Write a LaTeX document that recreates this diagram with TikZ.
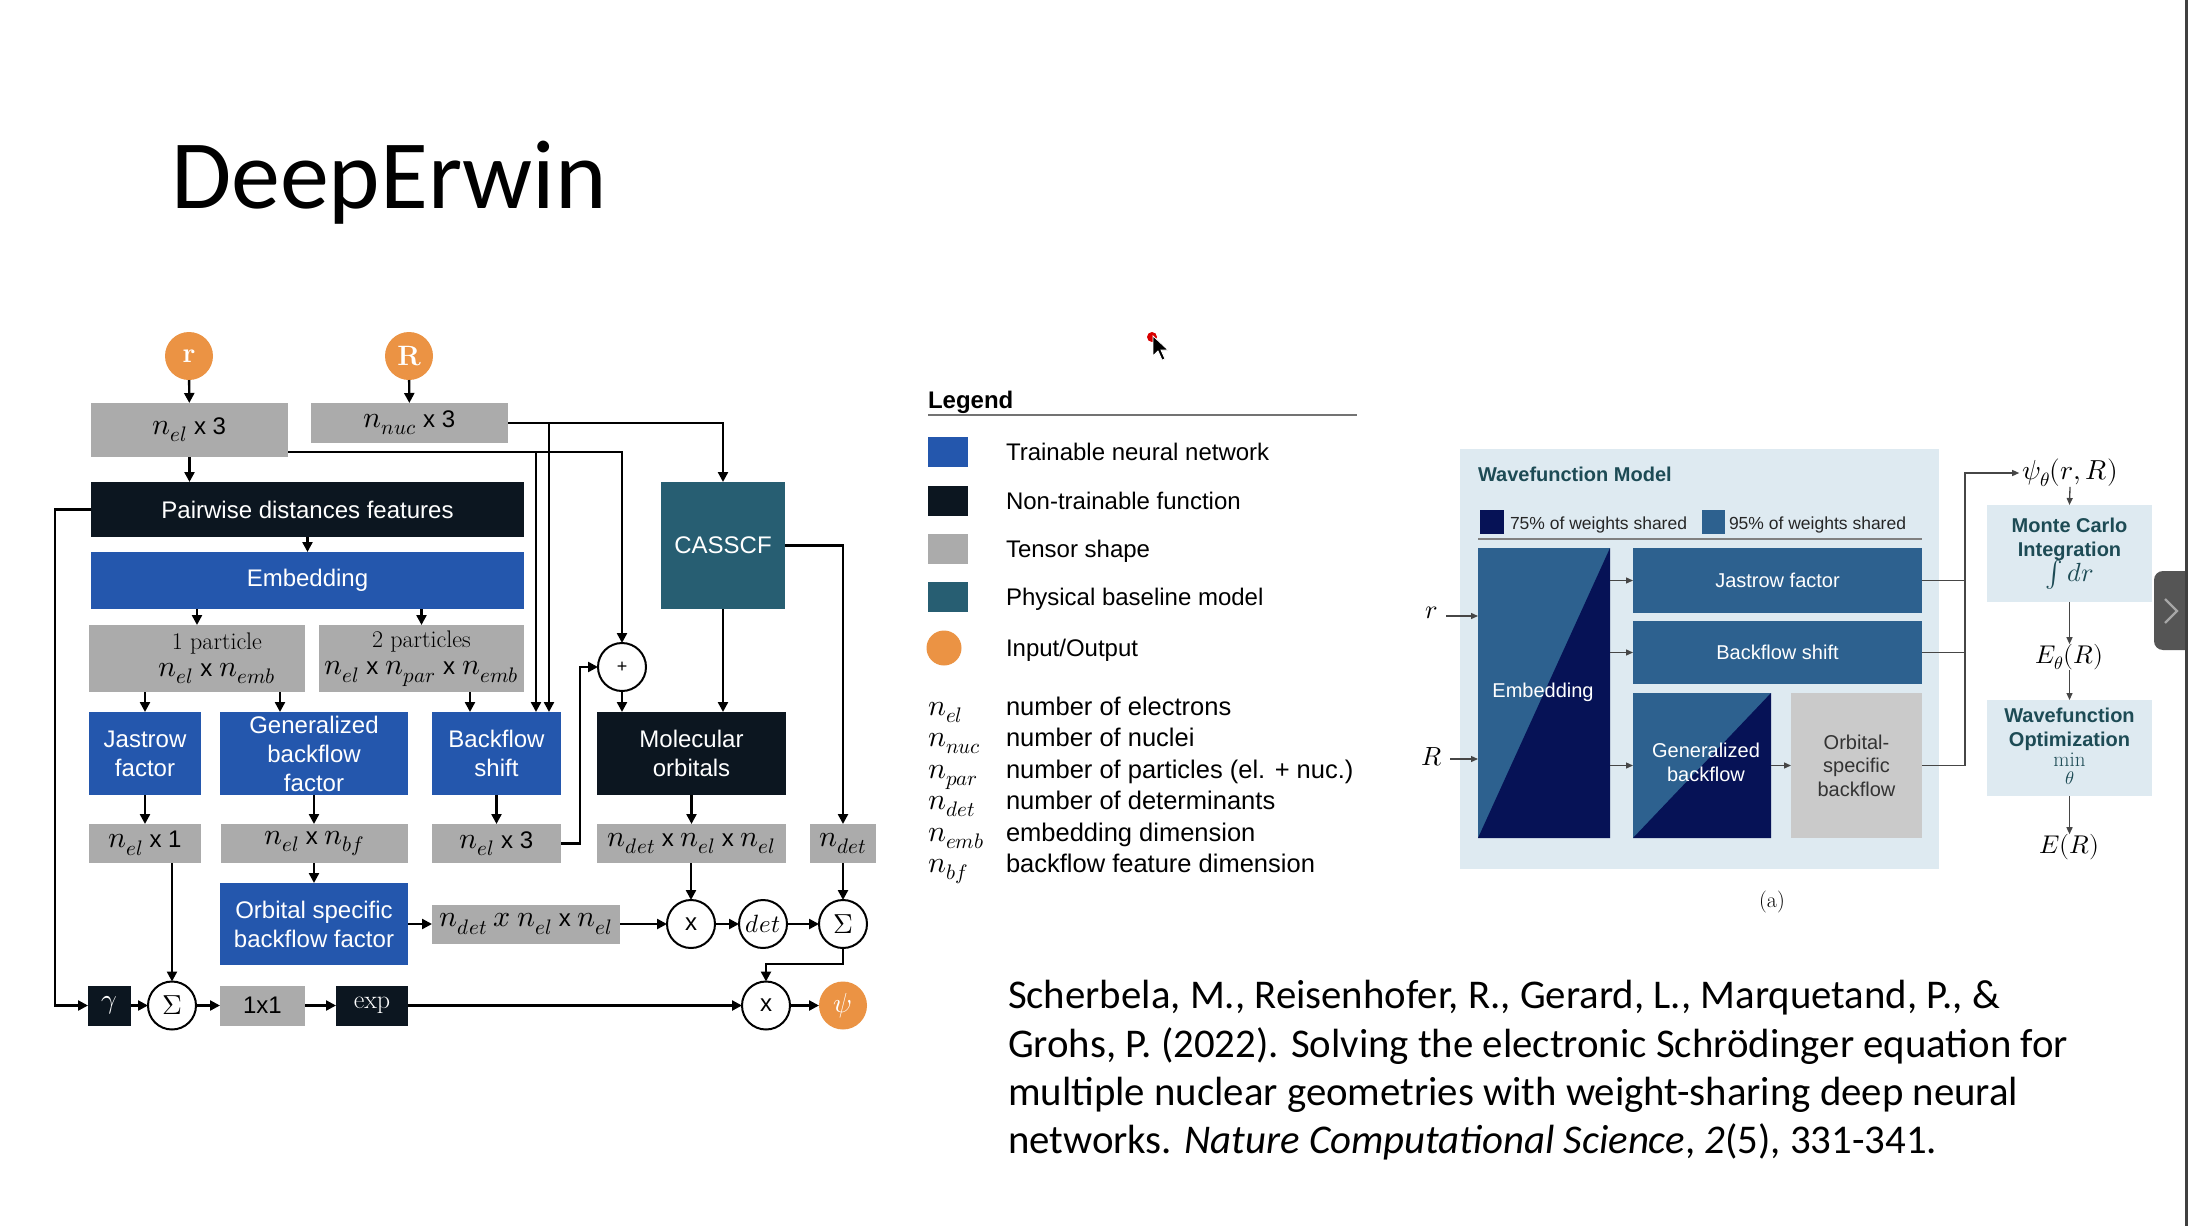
\documentclass[tikz,border=0pt]{standalone}
\usepackage{fontspec}
\usepackage{unicode-math}
\setmathfont{Latin Modern Math}[Scale=1.25]
\setsansfont{Liberation Sans}
\newfontfamily\slidefont{Carlito}
\usetikzlibrary{arrows.meta,calc}

\newcommand{\fsz}[2]{\fontsize{#1}{#2}\selectfont}

\definecolor{trainblue}{RGB}{36,87,173}
\definecolor{nontrain}{RGB}{12,22,32}
\definecolor{tensorgray}{RGB}{171,171,171}
\definecolor{baseteal}{RGB}{39,94,114}
\definecolor{iorange}{RGB}{235,147,68}
\definecolor{wfblue}{RGB}{45,97,143}
\definecolor{wfnavy}{RGB}{6,18,86}
\definecolor{wfbg}{RGB}{222,234,241}
\definecolor{wfgray}{RGB}{202,202,202}
\definecolor{wftext}{RGB}{29,75,85}
\definecolor{linegray}{RGB}{70,70,70}
\definecolor{tabgray}{RGB}{85,85,85}

\begin{document}
\begin{tikzpicture}[x=1pt,y=-1pt,
  every node/.style={inner sep=0pt,outer sep=0pt},
  bx/.style 2 args={rectangle,minimum width=#1pt,minimum height=#2pt,align=center,font=\sffamily\fsz{24}{29}},
  tn/.style={fill=trainblue,text=white},
  nt/.style={fill=nontrain,text=white},
  ts/.style={fill=tensorgray,text=black},
  pb/.style={fill=baseteal,text=white},
  io/.style={circle,fill=iorange,minimum size=48pt,text=white,font=\rmfamily\bfseries\fsz{28}{30}},
  opc/.style={circle,draw=black,line width=2pt,fill=white,minimum size=48pt,font=\sffamily\fsz{24}{29}},
  wire/.style={line width=2.4pt,black},
  flow/.style={wire,-{Triangle[length=10pt,width=10pt]}},
  tline/.style={line width=1.3pt,linegray},
  tarrow/.style={tline,-{Triangle[length=7pt,width=6pt]}},
  legtxt/.style={anchor=base west,font=\sffamily\fsz{24}{29}},
  desctxt/.style={anchor=base west,font=\sffamily\fsz{25.5}{29}},
  wftxt/.style={text=white,font=\sffamily\fsz{20}{24},align=center},
]
% page
\fill[white] (0,0) rectangle (2188,1226);
\path[use as bounding box] (0,0) rectangle (2188,1226);

% title
\node[anchor=base west,font=\slidefont\fsz{98}{100}] (title) at (171,208) {DeepErwin};

% ---------------- architecture diagram ----------------
\node[io] (r) at (189,356) {r};
\node[io] (R) at (409,356) {R};
\node[bx={197}{54},ts] (nel3) at (189.5,430) {$n_{el}$ x 3};
\node[bx={197}{40},ts] (nnuc3) at (409.5,423) {$n_{nuc}$ x 3};
\node[bx={433}{55},nt] (pair) at (307.5,509.5) {Pairwise distances features};
\node[bx={433}{57},tn] (emb) at (307.5,580.5) {Embedding};
\node[bx={216}{67},ts] (p1) at (197,658.5) {};
\node[align=center,font=\rmfamily\fsz{24}{27}] (p1t) at (217,658.5) {1 particle\\$n_{el}$ {\sffamily x} $n_{emb}$};
\node[bx={205}{67},ts,font=\rmfamily\fsz{24}{27}] (p2) at (421.5,658.5) {2 particles\\$n_{el}$ {\sffamily x} $n_{par}$ {\sffamily x} $n_{emb}$};
\node[bx={124}{127},pb] (cas) at (723,545.5) {CASSCF};
\node[opc,font=\sffamily\fsz{18}{20}] (plus) at (622,667) {+};

\node[bx={112}{83},tn] (jas) at (145,753.5) {Jastrow\\factor};
\node[bx={188}{83},tn] (gbf) at (314,753.5) {Generalized\\backflow\\factor};
\node[bx={129}{83},tn] (bfs) at (496.5,753.5) {Backflow\\shift};
\node[bx={189}{83},nt] (mo) at (691.5,753.5) {Molecular\\orbitals};

\node[bx={112}{39},ts] (s1) at (145,843.5) {$n_{el}$ x 1};
\node[bx={187}{39},ts] (s2) at (314.5,843.5) {$n_{el}$ x $n_{bf}$};
\node[bx={129}{39},ts] (s3) at (496.5,843.5) {$n_{el}$ x 3};
\node[bx={189}{39},ts] (s4) at (691.5,843.5) {$n_{det}$ x $n_{el}$ x $n_{el}$};
\node[bx={66}{39},ts] (s5) at (843,843.5) {$n_{det}$};

\node[bx={188}{82},tn] (osb) at (314,924) {Orbital specific\\backflow factor};
\node[bx={188}{39},ts] (s6) at (526,924) {$n_{det}$ $x$ $n_{el}$ x $n_{el}$};
\node[opc] (m1) at (691,924) {x};
\node[opc,font=\fsz{20}{24}] (det) at (763,924) {$det$};
\node[opc,font=\fsz{22}{26}] (sig2) at (843,924) {$\Sigma$};

\node[bx={43}{40},nt,font=\fsz{22}{26}] (gam) at (109.5,1005.5) {$\gamma$};
\node[opc,font=\fsz{22}{26}] (sig1) at (172,1005.5) {$\Sigma$};
\node[bx={85}{40},ts] (one) at (262.5,1005.5) {1x1};
\node[bx={72}{40},nt,font=\rmfamily\fsz{26}{29}] (exp) at (372,1005.5) {exp};
\node[opc] (m2) at (766,1005.5) {x};
\node[io,font=\fsz{22}{26}] (psi) at (843,1005.5) {$\psi$};

\coordinate (eldrop) at (536,452);
\coordinate (nucdrop) at (549,423);
\coordinate (lr) at (55,509.5);
\coordinate (gbfin) at (280,712);
\coordinate (bfsin) at (470,712);
\coordinate (s1out) at (172,863);

\draw[flow] (r) -- (nel3);
\draw[flow] (R) -- (nnuc3);
\draw[flow] (nel3.south) -- (nel3.south |- pair.north);
\draw[flow] (pair.south) -- (emb.north);
\draw[flow] (p1.north |- emb.south) -- (p1.north);
\draw[flow] (p2.north |- emb.south) -- (p2.north);
\draw[flow] (nnuc3.east) -| (cas.north);
\draw[flow] ([yshift=-22pt]nel3.east) -| (plus.north);
\draw[flow] (eldrop) -- (eldrop |- bfs.north);
\draw[flow] (nucdrop) -- (nucdrop |- bfs.north);
\draw[flow] (pair.west) -- (lr) |- (gam.west);
\draw[flow] (jas.north |- p1.south) -- (jas.north);
\draw[flow] (gbfin |- p1.south) -- (gbfin);
\draw[flow] (bfsin |- p2.south) -- (bfsin);
\draw[flow] (plus.south) -- (plus.south |- mo.north);
\draw[flow] (cas.south) -- (cas.south |- mo.north);
\draw[flow] (cas.east) -| (s5.north);
\draw[flow] (jas.south) -- (s1.north);
\draw[flow] (gbf.south) -- (gbf.south |- s2.north);
\draw[flow] (bfs.south) -- (s3.north);
\draw[flow] (mo.south) -- (s4.north);
\draw[flow] (s3.east) -- ++(19,0) |- (plus.west);
\draw[flow] (s2.south -| osb.north) -- (osb.north);
\draw[flow] (osb.east) -- (s6.west);
\draw[flow] (s6.east) -- (m1.west);
\draw[flow] (s4.south -| m1.north) -- (m1.north);
\draw[flow] (m1.east) -- (det.west);
\draw[flow] (det.east) -- (sig2.west);
\draw[flow] (s5.south) -- (sig2.north);
\draw[flow] (s1out) -- (s1out |- sig1.north);
\draw[flow] (gam.east) -- (sig1.west);
\draw[flow] (sig1.east) -- (one.west);
\draw[flow] (one.east) -- (exp.west);
\draw[flow] (exp.east) -- (m2.west);
\draw[flow] (sig2.south) -- ++(0,16) -| (m2.north);
\draw[flow] (m2.east) -- (psi.west);

% ---------------- legend ----------------
\node[anchor=base west,font=\sffamily\bfseries\fsz{24}{29}] (legtitle) at (928,408) {Legend};
\draw[line width=1.5pt,black!55] (928,415) -- (1357,415);
\node[bx={40}{30},tn] (sw1) at (948,452) {};
\node[bx={40}{30},nt] (sw2) at (948,500.5) {};
\node[bx={40}{30},ts] (sw3) at (948,548.5) {};
\node[bx={40}{30},pb] (sw4) at (948,597) {};
\node[circle,fill=iorange,minimum size=35pt] (sw5) at (944,648) {};
\node[legtxt] (lt1) at (1006,460.5) {Trainable neural network};
\node[legtxt] (lt2) at (1006,509) {Non-trainable function};
\node[legtxt] (lt3) at (1006,557) {Tensor shape};
\node[legtxt] (lt4) at (1006,605.5) {Physical baseline model};
\node[legtxt] (lt5) at (1006,656) {Input/Output};

\node[legtxt] (v1) at (928,715) {$n_{el}$};
\node[legtxt] (v2) at (928,746.5) {$n_{nuc}$};
\node[legtxt] (v3) at (928,778) {$n_{par}$};
\node[legtxt] (v4) at (928,809.5) {$n_{det}$};
\node[legtxt] (v5) at (928,841) {$n_{emb}$};
\node[legtxt] (v6) at (928,872.5) {$n_{bf}$};
\node[desctxt] (d1) at (1006,715) {number of electrons};
\node[desctxt] (d2) at (1006,746.5) {number of nuclei};
\node[desctxt] (d3) at (1006,778) {number of particles (el. + nuc.)};
\node[desctxt] (d4) at (1006,809.5) {number of determinants};
\node[desctxt] (d5) at (1006,841) {embedding dimension};
\node[desctxt] (d6) at (1006,872.5) {backflow feature dimension};

% ---------------- wavefunction model panel ----------------
\node[rectangle,fill=wfbg,minimum width=479pt,minimum height=420pt] (wfpanel) at (1699.5,659) {};
\node[anchor=base west,font=\sffamily\bfseries\fsz{20}{24},text=wftext] (wftitle) at (1478,481) {Wavefunction Model};
\node[rectangle,fill=wfnavy,minimum width=24pt,minimum height=24pt] (sh75) at (1492,522) {};
\node[anchor=base west,font=\sffamily\fsz{17.5}{20},text=black!85] (t75) at (1510,529) {75\% of weights shared};
\node[rectangle,fill=wfblue,minimum width=23pt,minimum height=24pt] (sh95) at (1713.5,522) {};
\node[anchor=base west,font=\sffamily\fsz{17.5}{20},text=black!85] (t95) at (1729,529) {95\% of weights shared};
\draw[line width=1.2pt,black!50] (1478,539) -- (1922,539);

\node[rectangle,fill=wfblue,minimum width=132pt,minimum height=290pt] (emb2) at (1544,693) {};
\fill[wfnavy] (emb2.south west) -- (emb2.north east) -- (emb2.south east) -- cycle;
\node[wftxt] (emb2t) at (1543,692) {Embedding};

\node[rectangle,fill=wfblue,minimum width=289pt,minimum height=65pt,wftxt] (jas2) at (1777.5,580.5) {Jastrow factor};
\node[rectangle,fill=wfblue,minimum width=289pt,minimum height=63pt,wftxt] (bfs2) at (1777.5,652.5) {Backflow shift};
\node[rectangle,fill=wfblue,minimum width=138pt,minimum height=145pt] (gbf2) at (1702,765.5) {};
\fill[wfnavy] (gbf2.south west) -- (gbf2.north east) -- (gbf2.south east) -- cycle;
\node[wftxt] (gbf2t) at (1706,762) {Generalized\\backflow};
\node[rectangle,fill=wfgray,minimum width=131pt,minimum height=145pt,wftxt,text=black!80,font=\sffamily\fsz{20}{23.5}] (orb2) at (1856.5,765.5) {Orbital-\\specific\\backflow};

\draw[tarrow] (emb2.east |- jas2.west) -- (jas2.west);
\draw[tarrow] (emb2.east |- bfs2.west) -- (bfs2.west);
\draw[tarrow] (emb2.east |- gbf2.west) -- (gbf2.west);
\draw[tarrow] (gbf2.east) -- (orb2.west);

\node[font=\fsz{21}{26}] (rin) at (1432,613) {$r$};
\node[font=\fsz{21}{26}] (Rin) at (1432,757) {$R$};
\draw[tarrow] ([xshift=8pt]rin.east |- 0,616) -- (emb2.west |- 0,616);
\draw[tarrow] ([xshift=8pt]Rin.east |- 0,759) -- (emb2.west |- 0,759);

% ---------------- training loop ----------------
\node[font=\fsz{22}{26}] (psiR) at (2070,473) {$\psi_\theta(r,R)$};
\coordinate (bus) at (1965,473);
\draw[tline] (jas2.east) -- (jas2.east -| bus);
\draw[tline] (bfs2.east) -- (bfs2.east -| bus);
\draw[tarrow] (orb2.east) -- (orb2.east -| bus) -- (bus) -- ([xshift=-3pt]psiR.west);

\node[rectangle,fill=wfbg,minimum width=165pt,minimum height=97pt,align=center,text=wftext,font=\sffamily\bfseries\fsz{20}{24}] (mc) at (2069.5,553.5) {Monte Carlo\\Integration\\[-1pt]{\mdseries\fsz{21}{24}$\int dr$}};
\node[font=\fsz{20.5}{26}] (Et) at (2069.5,657) {$E_\theta(R)$};
\node[rectangle,fill=wfbg,minimum width=165pt,minimum height=96pt,align=center,text=wftext,font=\sffamily\bfseries\fsz{20}{24}] (wo) at (2069.5,748) {Wavefunction\\Optimization\\[-4pt]{\mdseries\fsz{21}{22}$\min\limits_\theta$}};
\node[font=\fsz{20.5}{26}] (ER) at (2069.5,847) {$E(R)$};
\draw[tarrow] (psiR.south) -- (mc.north);
\draw[tarrow] (mc.south) -- (Et.north);
\draw[tarrow] (Et.south) -- (wo.north);
\draw[tarrow] (wo.south) -- (ER.north);

\node[font=\rmfamily\fsz{22}{26}] (cap) at (1772,902) {(a)};

% ---------------- reference ----------------
\node[anchor=base west,font=\slidefont\fsz{40.8}{48}] (ref1) at (1008,1008) {Scherbela, M., Reisenhofer, R., Gerard, L., Marquetand, P., \&};
\node[anchor=base west,font=\slidefont\fsz{40.8}{48}] (ref2) at (1008,1057) {Grohs, P. (2022). Solving the electronic Schrödinger equation for};
\node[anchor=base west,font=\slidefont\fsz{40.8}{48}] (ref3) at (1008,1105) {multiple nuclear geometries with weight-sharing deep neural};
\node[anchor=base west,font=\slidefont\fsz{40.8}{48}] (ref4) at (1008,1153) {networks. \textit{Nature Computational Science}, \textit{2}(5), 331-341.};

% ---------------- screen overlay: pointer, side tab ----------------
\node[circle,fill=red!85!black,minimum size=10pt] (dot) at (1152,337) {};
\fill[black,draw=white,line width=0.8pt] (1153,336) -- (1153,356) -- (1158,351) -- (1162,360) -- (1165,359) -- (1161,350) -- (1168,350) -- cycle;
\fill[tabgray,rounded corners=9pt] (2154,571) rectangle (2210,650);
\draw[black!35,line width=2.2pt] (2165,599) -- (2177,611) -- (2165,623);
\fill[black!75] (2185,0) rectangle (2188,1226);
\end{tikzpicture}
\end{document}
